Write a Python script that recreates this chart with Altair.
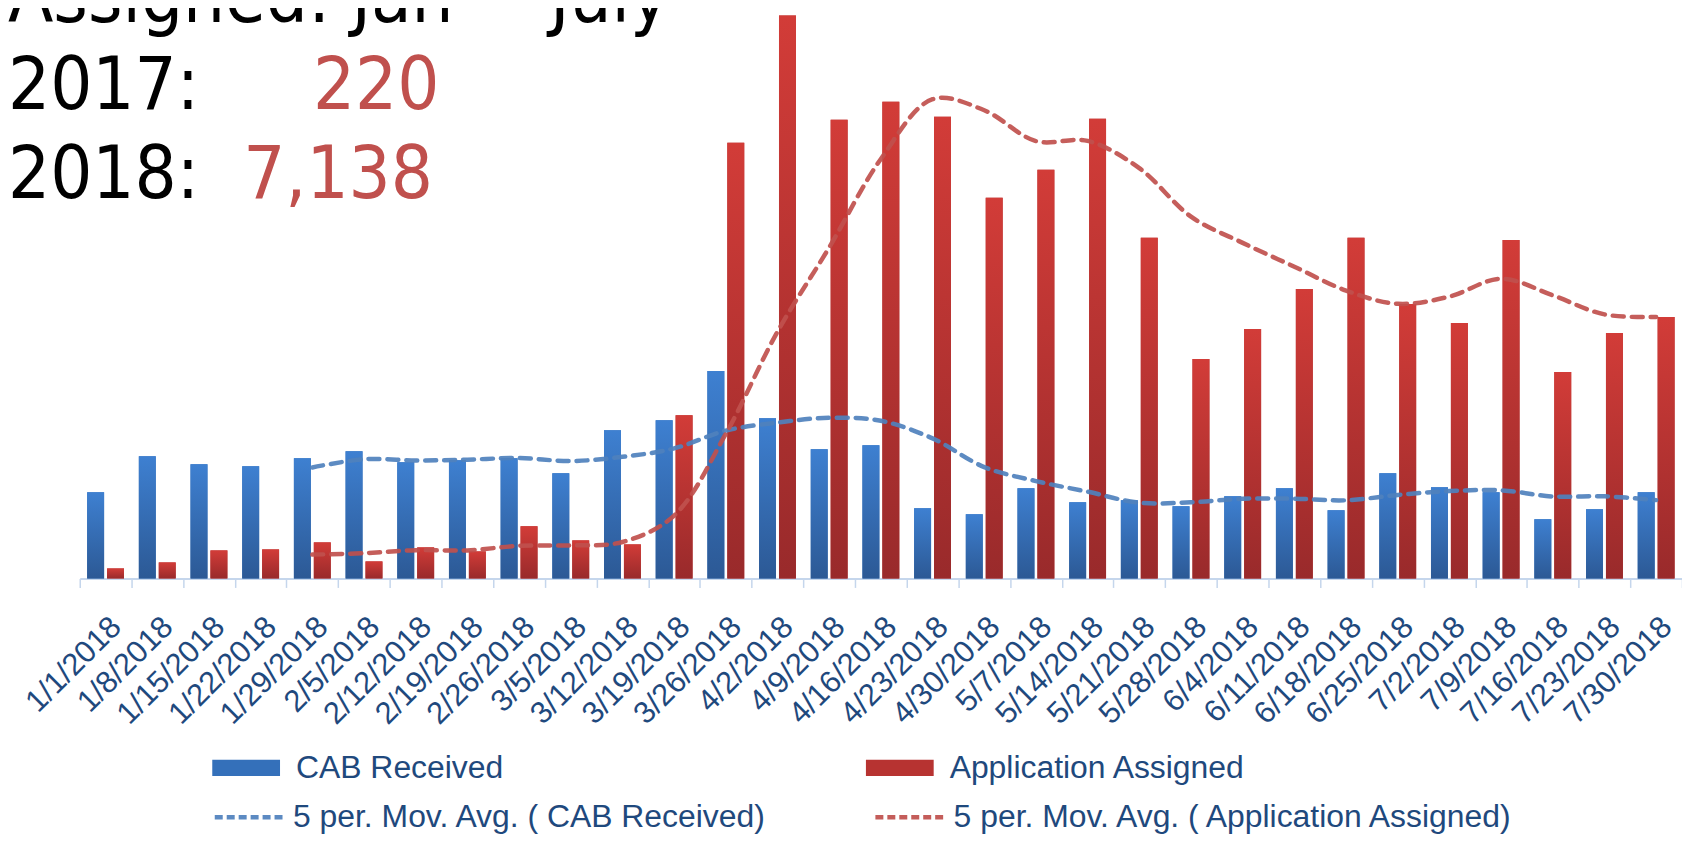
import altair as alt
import pandas as pd

weeks = ["1/1/2018", "1/8/2018", "1/15/2018", "1/22/2018", "1/29/2018", "2/5/2018",
         "2/12/2018", "2/19/2018", "2/26/2018", "3/5/2018", "3/12/2018", "3/19/2018",
         "3/26/2018", "4/2/2018", "4/9/2018", "4/16/2018", "4/23/2018", "4/30/2018",
         "5/7/2018", "5/14/2018", "5/21/2018", "5/28/2018", "6/4/2018", "6/11/2018",
         "6/18/2018", "6/25/2018", "7/2/2018", "7/9/2018", "7/16/2018", "7/23/2018",
         "7/30/2018"]
cab_received = [86, 122, 114, 112, 120, 127, 116, 118, 120, 105, 148, 158, 207, 160, 129, 133,
                70, 64, 90, 76, 78, 72, 82, 90, 68, 105, 91, 86, 59, 69, 86]
app_assigned = [10, 16, 28, 29, 36, 17, 31, 27, 52, 38, 34, 163, 435, 562, 458, 476,
                461, 380, 408, 459, 340, 219, 249, 289, 340, 274, 255, 338, 206, 245, 261]
series_names = ["CAB Received", "Application Assigned"]
ma_names = ["5 per. Mov. Avg. ( CAB Received)", "5 per. Mov. Avg. ( Application Assigned)"]
header_text = ["Assigned: Jan\u00a0\u00a0\u2013\u00a0July", "2017:", "2018:"]
totals_text = ["220", "7,138"]

n = len(weeks)
df = pd.DataFrame({
    "week": weeks * 2,
    "idx": list(range(n)) * 2,
    "series": [series_names[0]] * n + [series_names[1]] * n,
    "ma_name": [ma_names[0]] * n + [ma_names[1]] * n,
    "value": cab_received + app_assigned,
})

LABEL_BLUE = "#1F497D"
SANS = "Liberation Sans, Arial"
x_enc = alt.X("week:N", sort=weeks,
              scale=alt.Scale(paddingInner=0, paddingOuter=0),
              axis=alt.Axis(title=None, labelAngle=-45, labelFont=SANS,
                            labelFontSize=31, labelColor=LABEL_BLUE, labelPadding=24,
                            labelOverlap=False, tickBand="extent", tickColor="#C5D6EC",
                            tickSize=9, tickWidth=1.5, domainColor="#C5D6EC",
                            domainWidth=2, grid=False))
xoff_enc = alt.XOffset("series:N", sort=series_names,
                       scale=alt.Scale(domain=series_names, paddingInner=0.15,
                                       paddingOuter=0.372))
y_scale = alt.Scale(domain=[0, 568], nice=False, zero=True)
y_enc = alt.Y("value:Q", scale=y_scale, axis=None)

blue_grad = alt.LinearGradient(gradient="linear", x1=0, x2=0, y1=0, y2=1,
                               stops=[alt.GradientStop(color="#3E80D1", offset=0),
                                      alt.GradientStop(color="#2C5995", offset=1)])
red_grad = alt.LinearGradient(gradient="linear", x1=0, x2=0, y1=0, y2=1,
                              stops=[alt.GradientStop(color="#D23C38", offset=0),
                                     alt.GradientStop(color="#992A2B", offset=1)])

base = alt.Chart(df)

bars_legend = base.mark_bar().encode(
    x=x_enc, xOffset=xoff_enc, y=y_enc,
    color=alt.Color("series:N", sort=series_names,
                    scale=alt.Scale(domain=series_names, range=["#3470BA", "#B73331"]),
                    legend=alt.Legend(title=None, orient="none", legendX=133, legendY=727,
                                      direction="horizontal", columns=2,
                                      symbolType="M-1,-0.24H1V0.24H-1Z", symbolSize=4624,
                                      symbolStrokeWidth=0, labelFont=SANS,
                                      labelFontSize=32, labelColor=LABEL_BLUE,
                                      labelLimit=1000, labelOffset=16, columnPadding=363,
                                      padding=0)),
)

bars_blue = base.transform_filter(alt.datum.series == series_names[0]).mark_bar(
    color=blue_grad).encode(x=x_enc, xOffset=xoff_enc, y=y_enc)
bars_red = base.transform_filter(alt.datum.series == series_names[1]).mark_bar(
    color=red_grad).encode(x=x_enc, xOffset=xoff_enc, y=y_enc)

lines = base.transform_window(
    ma="mean(value)", cnt="count()", frame=[-4, 0], groupby=["series"],
    sort=[alt.SortField("idx")]
).transform_filter("datum.cnt == 5").mark_line(
    interpolate="catmull-rom", strokeWidth=4.5, strokeDash=[11, 8], strokeCap="round",
    opacity=0.92
).encode(
    x=x_enc,
    y=alt.Y("ma:Q", scale=y_scale, axis=None),
    stroke=alt.Stroke("ma_name:N", sort=ma_names,
                      scale=alt.Scale(domain=ma_names, range=["#4F81BD", "#C0504D"]),
                      legend=alt.Legend(title=None, orient="none", legendX=133, legendY=774,
                                        direction="horizontal", columns=2,
                                        symbolType="stroke", symbolSize=4624,
                                        symbolStrokeWidth=4.5, symbolDash=[8, 4],
                                        labelFont=SANS, labelFontSize=32,
                                        labelColor=LABEL_BLUE, labelLimit=1000,
                                        labelOffset=8, columnPadding=99, padding=0)),
    order="idx:Q",
)

TITLE_FONT = "DejaVu Sans Condensed, Liberation Sans"
t_assigned = alt.Chart(pd.DataFrame({"t": [header_text[0]]})).mark_text(
    font=TITLE_FONT, fontSize=74, align="left", baseline="alphabetic", color="black"
).encode(text="t:N", x=alt.value(-72), y=alt.value(13))
t_2017 = alt.Chart(pd.DataFrame({"t": [header_text[1]]})).mark_text(
    font=TITLE_FONT, fontSize=74, align="left", baseline="alphabetic", color="black"
).encode(text="t:N", x=alt.value(-72), y=alt.value(100))
t_2018 = alt.Chart(pd.DataFrame({"t": [header_text[2]]})).mark_text(
    font=TITLE_FONT, fontSize=74, align="left", baseline="alphabetic", color="black"
).encode(text="t:N", x=alt.value(-72), y=alt.value(189))
t_220 = alt.Chart(pd.DataFrame({"t": [totals_text[0]]})).mark_text(
    font=TITLE_FONT, fontSize=74, align="left", baseline="alphabetic", color="#C0504D"
).encode(text="t:N", x=alt.value(234), y=alt.value(100))
t_7138 = alt.Chart(pd.DataFrame({"t": [totals_text[1]]})).mark_text(
    font=TITLE_FONT, fontSize=74, align="left", baseline="alphabetic", color="#C0504D"
).encode(text="t:N", x=alt.value(164), y=alt.value(189))

chart = alt.layer(bars_legend, bars_blue, bars_red, lines,
                  t_assigned, t_2017, t_2018, t_220, t_7138).properties(
    width=1608, height=571,
    autosize=alt.AutoSizeParams(type="none"),
    padding={"left": 72, "top": 0, "right": 0, "bottom": 262},
    background="white",
).resolve_scale(color="independent").configure_view(stroke=None)

chart.save("out.html", embed_options={"renderer": "svg", "actions": False})
